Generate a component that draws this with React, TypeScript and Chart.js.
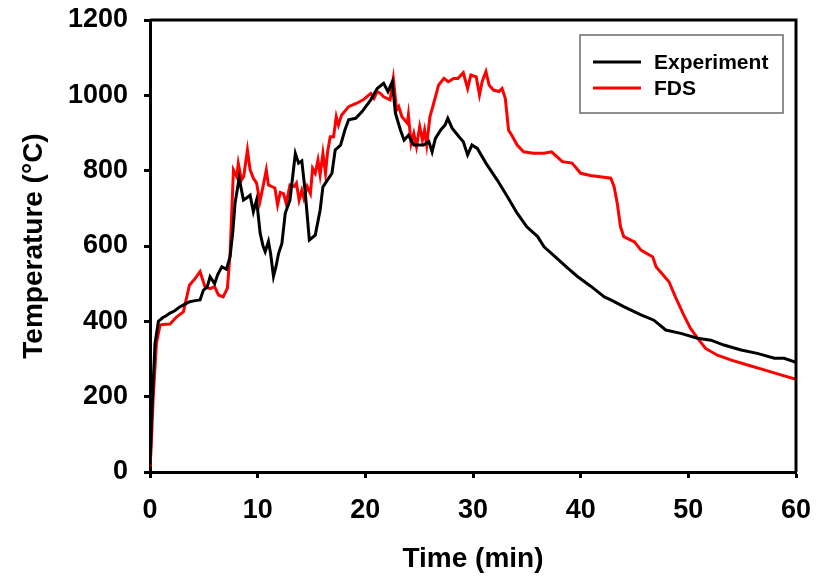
import React, { useEffect, useRef } from "react";
import { Chart, registerables } from "chart.js";

Chart.register(...registerables);

const seriesLabels = ["Experiment", "FDS"];
const xTicks = [0, 10, 20, 30, 40, 50, 60];
const yTicks = [0, 200, 400, 600, 800, 1000, 1200];

const expTime = [0, 0.2, 0.47, 0.78, 1.2, 1.5, 1.86, 2.3, 2.8, 3.2, 3.7, 4.2, 4.65, 4.96, 5.3, 5.58, 6.0, 6.3, 6.67, 7.1, 7.44, 7.7, 7.9, 8.28, 8.68, 9.0, 9.3, 9.6, 9.9, 10.23, 10.5, 10.7, 11.0, 11.2, 11.47, 11.7, 11.94, 12.25, 12.56, 13.0, 13.5, 13.8, 14.1, 14.4, 14.8, 15.35, 15.8, 16.06, 16.6, 16.9, 17.2, 17.7, 18.1, 18.45, 19.1, 19.7, 20.5, 21.1, 21.7, 22.1, 22.5, 22.8, 23.26, 23.6, 24.0, 24.5, 25.4, 25.9, 26.2, 26.5, 27.0, 27.4, 27.66, 28.06, 28.7, 29.1, 29.5, 29.9, 30.4, 31.2, 32.25, 33.2, 34.1, 35.0, 36.0, 36.6, 37.8, 38.8, 39.7, 40.9, 42.2, 42.8, 44.0, 45.6, 46.8, 47.9, 49.3, 50.85, 52.1, 53.3, 54.9, 56.4, 58.0, 58.9, 59.8, 60];
const expTemp = [20, 180, 342, 400, 410, 415, 422, 428, 439, 445, 452, 455, 457, 483, 490, 518, 500, 525, 545, 538, 572, 640, 714, 780, 722, 728, 735, 691, 722, 634, 600, 585, 612, 580, 519, 545, 580, 607, 687, 722, 846, 820, 826, 748, 616, 629, 695, 757, 780, 793, 855, 868, 908, 935, 939, 957, 988, 1018, 1032, 1010, 1036, 952, 908, 881, 894, 868, 868, 877, 850, 885, 908, 921, 939, 913, 890, 877, 842, 868, 859, 820, 775, 731, 687, 651, 625, 598, 567, 541, 519, 494, 465, 457, 439, 417, 403, 377, 368, 355, 350, 337, 324, 315, 302, 302, 293, 290];

const fdsTime = [0, 0.1, 0.3, 0.6, 0.93, 1.4, 1.86, 2.48, 3.1, 3.66, 4.2, 4.65, 5.1, 5.58, 6.0, 6.36, 6.8, 7.19, 7.44, 7.75, 8.06, 8.2, 8.5, 8.7, 9.05, 9.3, 9.6, 9.9, 10.2, 10.5, 10.8, 11.0, 11.3, 11.6, 11.85, 12.1, 12.4, 12.65, 13.0, 13.4, 13.6, 13.85, 14.1, 14.3, 14.6, 14.9, 15.1, 15.35, 15.6, 15.8, 16.06, 16.3, 16.5, 16.74, 17.05, 17.3, 17.5, 17.8, 18.45, 19.2, 19.8, 20.5, 20.8, 21.1, 21.4, 21.7, 22.3, 22.6, 22.9, 23.1, 23.4, 23.9, 24.0, 24.25, 24.5, 24.75, 25.05, 25.3, 25.5, 25.7, 26.0, 26.35, 26.8, 27.3, 27.7, 28.2, 28.6, 29.1, 29.5, 29.8, 30.3, 30.6, 30.85, 31.2, 31.5, 31.9, 32.4, 32.7, 33.0, 33.3, 33.6, 34.1, 34.7, 35.6, 36.6, 37.3, 38.3, 39.2, 40.0, 40.9, 41.8, 42.8, 43.1, 43.4, 43.7, 44.0, 45.0, 45.6, 46.7, 47.0, 48.2, 48.8, 49.5, 50.2, 51.0, 51.6, 52.7, 54.0, 55.5, 57.05, 58.6, 60];
const fdsTemp = [15, 60, 200, 342, 390, 392, 393, 412, 425, 496, 514, 532, 492, 487, 492, 470, 465, 488, 580, 802, 784, 819, 775, 784, 855, 802, 780, 767, 717, 758, 802, 762, 758, 754, 709, 742, 739, 713, 762, 758, 767, 722, 748, 726, 758, 739, 806, 793, 828, 789, 846, 793, 851, 890, 890, 943, 921, 948, 970, 979, 988, 1005, 992, 1010, 1005, 996, 988, 1045, 961, 970, 943, 926, 948, 872, 899, 864, 917, 881, 908, 868, 943, 979, 1027, 1045, 1036, 1045, 1045, 1060, 1018, 1054, 1049, 1001, 1036, 1063, 1027, 1014, 1010, 1018, 992, 908, 894, 868, 850, 846, 846, 850, 824, 820, 793, 787, 784, 780, 758, 713, 651, 625, 611, 589, 571, 545, 505, 465, 421, 381, 350, 328, 310, 297, 284, 271, 258, 246];

const FONT = "'Liberation Sans', Arial, sans-serif";

const framePlugin = {
  id: "frameAndLegend",
  afterDatasetsDraw(chart: any) {
    const { ctx, chartArea } = chart;
    const { left, right, top, bottom } = chartArea;
    ctx.save();
    ctx.strokeStyle = "#000";
    ctx.lineWidth = 3;
    ctx.beginPath();
    ctx.moveTo(left, top);
    ctx.lineTo(right, top);
    ctx.lineTo(right, bottom);
    ctx.stroke();

    // legend box
    const bx = right - 216;
    const by = top + 15;
    const bw = 203;
    const bh = 78;
    ctx.fillStyle = "#fff";
    ctx.fillRect(bx, by, bw, bh);
    ctx.strokeStyle = "#6b6b6b";
    ctx.lineWidth = 1.5;
    ctx.strokeRect(bx, by, bw, bh);
    chart.data.datasets.forEach((ds: any, i: number) => {
      const y = by + 27 + i * 26;
      ctx.strokeStyle = ds.borderColor;
      ctx.lineWidth = 3;
      ctx.beginPath();
      ctx.moveTo(bx + 13, y);
      ctx.lineTo(bx + 61, y);
      ctx.stroke();
      ctx.fillStyle = "#000";
      ctx.font = `bold 21px ${FONT}`;
      ctx.textBaseline = "middle";
      ctx.textAlign = "left";
      ctx.fillText(ds.label, bx + 74, y + 1);
    });
    ctx.restore();
  },
};

export default function App() {
  const ref = useRef<HTMLCanvasElement | null>(null);
  useEffect(() => {
    if (!ref.current) return;
    const chart = new Chart(ref.current, {
      type: "line",
      data: {
        datasets: [
          {
            label: seriesLabels[0],
            data: expTime.map((t, i) => ({ x: t, y: expTemp[i] })),
            borderColor: "#000000",
            borderWidth: 3,
            pointRadius: 0,
            tension: 0,
          },
          {
            label: seriesLabels[1],
            data: fdsTime.map((t, i) => ({ x: t, y: fdsTemp[i] })),
            borderColor: "#ff0000",
            borderWidth: 3,
            pointRadius: 0,
            tension: 0,
          },
        ],
      },
      options: {
        animation: false,
        responsive: false,
        layout: { padding: { left: 0, right: 35, top: 20, bottom: 0 } },
        plugins: { legend: { display: false }, tooltip: { enabled: false } },
        scales: {
          x: {
            type: "linear",
            min: 0,
            max: 60,
            afterBuildTicks: (s: any) => {
              s.ticks = xTicks.map((v) => ({ value: v }));
            },
            afterFit: (s: any) => {
              s.height = 105;
              s.paddingLeft = 0;
              s.paddingRight = 0;
            },
            grid: {
              drawOnChartArea: false,
              drawTicks: true,
              tickLength: 6,
              tickWidth: 3,
              color: "#000",
            },
            border: { display: true, color: "#000", width: 3 },
            ticks: {
              padding: 16,
              color: "#000",
              maxRotation: 0,
              callback: (v: any) => String(v),
              font: { family: FONT, size: 27, weight: "bold" },
            },
            title: {
              display: true,
              text: "Time (min)",
              color: "#000",
              padding: { top: 0, bottom: 1 },
              font: { family: FONT, size: 28, weight: "bold" },
            },
          },
          y: {
            min: 0,
            max: 1200,
            afterBuildTicks: (s: any) => {
              s.ticks = yTicks.map((v) => ({ value: v }));
            },
            afterFit: (s: any) => {
              s.width = 150;
              s.paddingTop = 0;
              s.paddingBottom = 0;
            },
            grid: {
              drawOnChartArea: false,
              drawTicks: true,
              tickLength: 6,
              tickWidth: 3,
              color: "#000",
            },
            border: { display: true, color: "#000", width: 3 },
            ticks: {
              padding: 16,
              color: "#000",
              callback: (v: any) => String(v),
              font: { family: FONT, size: 27, weight: "bold" },
            },
            title: {
              display: true,
              text: "Temperature (°C)",
              color: "#000",
              padding: { top: 17, bottom: 0 },
              font: { family: FONT, size: 28, weight: "bold" },
            },
          },
        },
      },
      plugins: [framePlugin],
    });
    return () => chart.destroy();
  }, []);

  return (
    <div style={{ position: "fixed", left: 0, top: 0, width: 831, height: 577, background: "#fff" }}>
      <canvas ref={ref} width={831} height={577} style={{ width: 831, height: 577 }} />
    </div>
  );
}
